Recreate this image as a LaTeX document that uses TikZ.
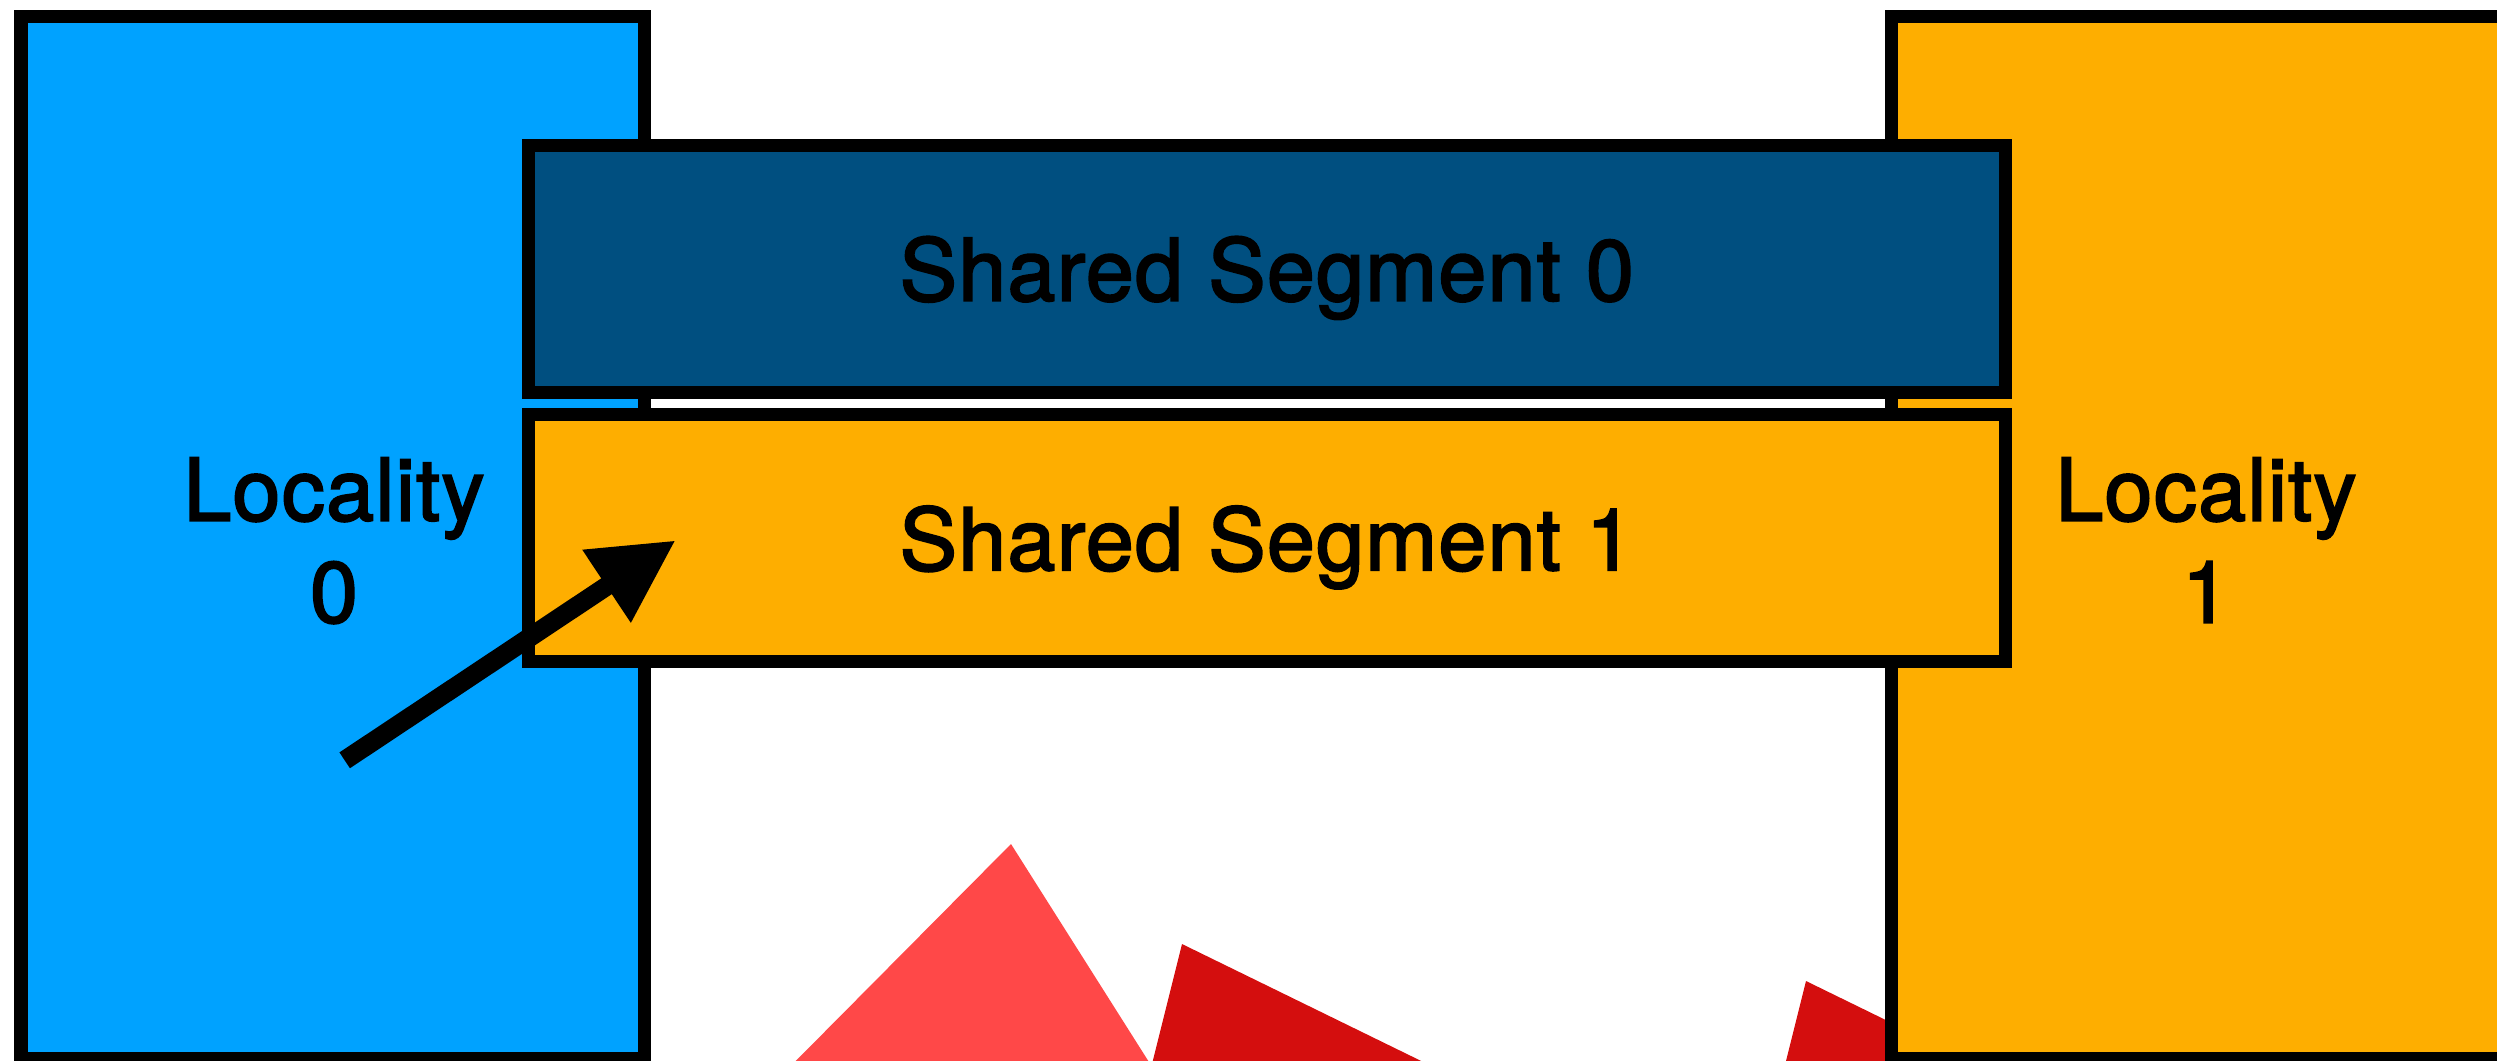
\documentclass[tikz,border=0pt]{standalone}
\usepackage{fontspec}
\setmainfont{TeX Gyre Heros}
\newfontfamily\diagramfont{TeX Gyre Heros}[FakeBold=2.3, LetterSpace=1.5]
\usepackage{tikz}
\usetikzlibrary{arrows.meta}

\definecolor{localityblue}{RGB}{0,162,255}
\definecolor{segmentblue}{RGB}{0,79,128}
\definecolor{localityorange}{RGB}{254,174,0}
\definecolor{lightred}{RGB}{255,72,72}
\definecolor{darkred}{RGB}{212,14,14}

\begin{document}
\begin{tikzpicture}[x=0.01cm, y=-0.01cm,
  box/.style={draw=black, line width=0.13cm},
  boxtext/.style={font=\diagramfont\fontsize{24.5}{29}\selectfont, inner sep=0pt, align=center},
  pointer/.style={line width=0.19cm, -{Triangle[length=0.83cm, width=0.82cm]}}]

\useasboundingbox (0,0) rectangle (2497,1060);
\clip (0,0) rectangle (2497,1060);

\fill [lightred] (1011,844) -- (757,1100) -- (1173,1100) -- cycle;
\fill [darkred] (1182,944) -- (1143,1100) -- (1501,1100) -- cycle;
\fill [darkred] (1806,981) -- (1767,1137) -- (2125,1137) -- cycle;

\filldraw (21,16.5) [box, fill=localityblue] rectangle (644,1058.5);
\filldraw (1891.5,16.5) [box, fill=localityorange] rectangle (2514.5,1058.5);

\filldraw (528,145) [box, fill=segmentblue] rectangle (2005.5,392.5);
\filldraw (528,414) [box, fill=localityorange] rectangle (2005.5,661.5);

\node[boxtext, anchor=north] (loc0) at (334,457) {Locality\\0};
\node[boxtext, anchor=north] (loc1) at (2206,457) {Locality\\1};

\node[boxtext, anchor=base] (seg0) at (1266.75,300.7) {Shared Segment 0};
\node[boxtext, anchor=base] (seg1) at (1266.75,570.2) {Shared Segment 1};

\coordinate (ptrtail) at (344.7,760.3);
\coordinate (ptrhead) at (675.7,540.3);
\draw [pointer] (ptrtail) -- (ptrhead);

\end{tikzpicture}
\end{document}
